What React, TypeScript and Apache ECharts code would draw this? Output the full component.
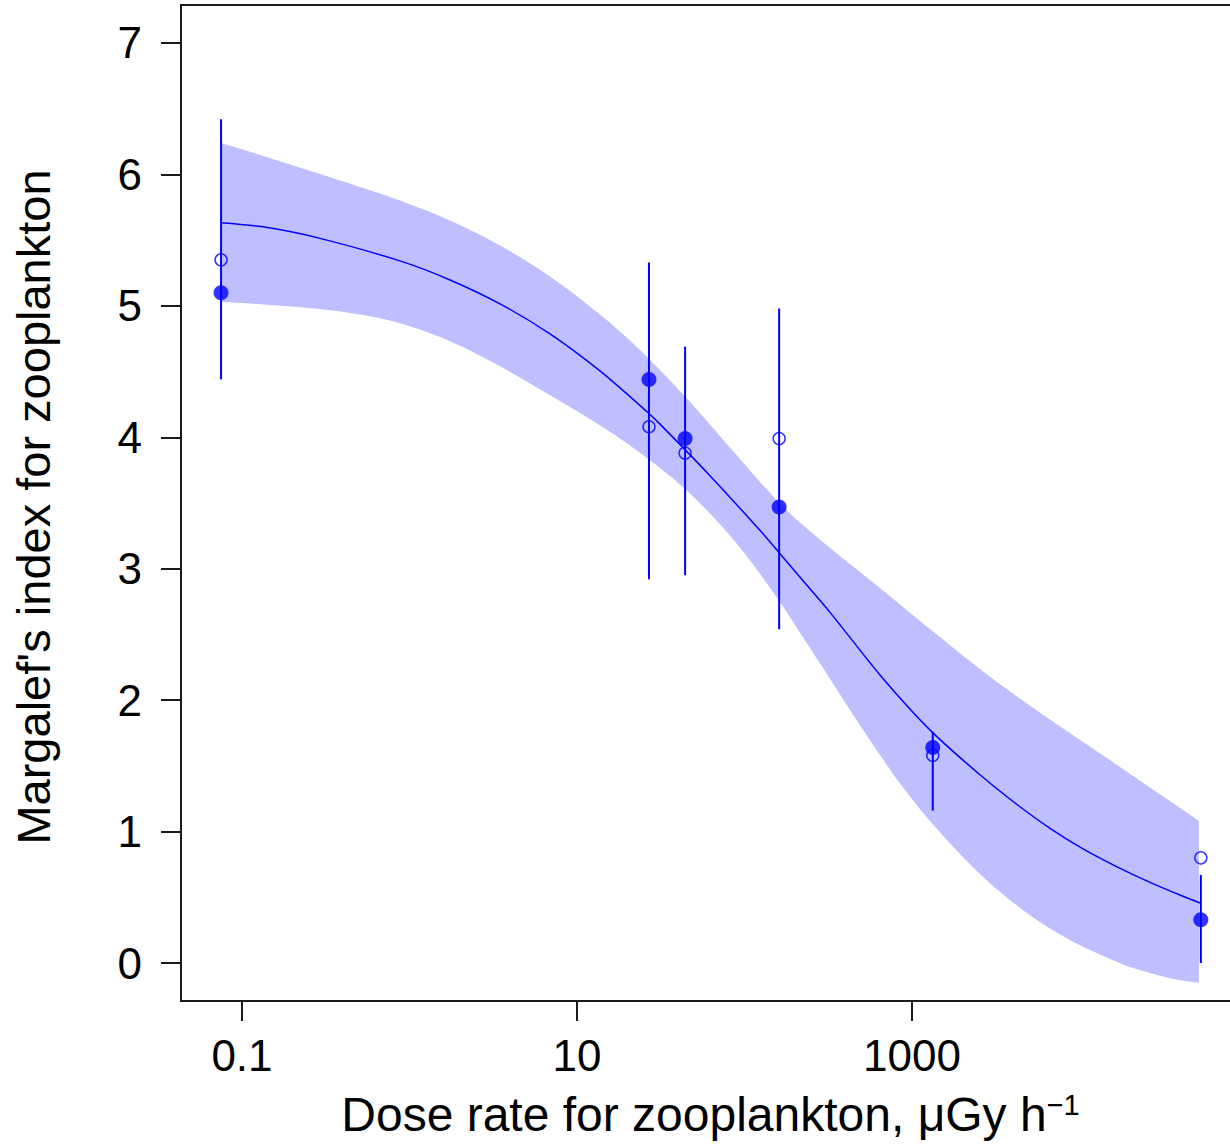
import React, { useEffect, useRef } from "react";
import * as echarts from "echarts";

// Observed data points (dose rate, µGy/h)
const doseRate = [0.075, 26.9, 44.2, 161, 1330, 53000];
const filledIndex = [5.1, 4.44, 3.99, 3.47, 1.64, 0.33];
const openIndex = [5.35, 4.08, 3.88, 3.99, 1.58, 0.8];
const errLow = [4.44, 2.92, 2.95, 2.54, 1.16, 0.0];
const errHigh = [6.42, 5.33, 4.69, 4.98, 1.76, 0.67];

// Fitted curve
const fitDose = [0.075, 0.1334, 0.2805, 0.877, 1.746, 3.47, 6.9, 13.71, 26.2, 31.3, 62.2, 124, 158.5, 214, 324, 644, 1279, 2545, 4236, 6668, 10500, 16760, 26360, 41500, 52380];
const fitIndex = [5.633, 5.601, 5.519, 5.342, 5.197, 5.015, 4.787, 4.505, 4.194, 4.1, 3.708, 3.29, 3.132, 2.937, 2.668, 2.192, 1.774, 1.432, 1.206, 1.025, 0.869, 0.732, 0.614, 0.508, 0.457];

// Confidence band (upper and lower limits at the same dose rates)
const bandDose = [0.075, 0.1116, 0.2804, 0.506, 0.877, 1.746, 3.47, 6.9, 13.71, 21.6, 31.3, 44.2, 62.2, 87.7, 124, 163, 214, 324, 426, 644, 847, 1334, 2545, 4236, 6668, 10500, 16760, 20860, 33270, 41500, 51600];
const bandUpper = [6.239, 6.173, 6.01, 5.904, 5.801, 5.649, 5.459, 5.223, 4.934, 4.714, 4.512, 4.31, 4.097, 3.878, 3.66, 3.495, 3.351, 3.158, 3.036, 2.853, 2.728, 2.522, 2.237, 2.028, 1.853, 1.681, 1.506, 1.423, 1.248, 1.164, 1.08];
const bandLower = [5.029, 5.018, 4.977, 4.934, 4.867, 4.73, 4.54, 4.319, 4.091, 3.921, 3.766, 3.607, 3.42, 3.207, 2.96, 2.744, 2.515, 2.162, 1.926, 1.583, 1.367, 1.053, 0.677, 0.437, 0.262, 0.123, 0.008, -0.038, -0.11, -0.135, -0.149];

// Axes
const xTicks = [0.1, 10, 1000];
const xTickLabels = ["0.1", "10", "1000"];
const yTicks = [0, 1, 2, 3, 4, 5, 6, 7];
const xMin = 0.04325;
const xMax = 90800;
const yMin = -0.289;
const yMax = 7.289;

const FONT = "Liberation Sans, Arial, sans-serif";
const BLUE = "#0000FF";
const BAND = "#BFBFFF";
const INK = "#1a1a1a";

export default function App() {
  const ref = useRef<HTMLDivElement>(null);

  useEffect(() => {
    if (!ref.current) return;
    const chart = echarts.init(ref.current, undefined, { renderer: "svg" });
    const option: any = {
      animation: false,
      backgroundColor: "#ffffff",
      grid: {
        left: 181,
        right: 20,
        top: 5,
        bottom: 147,
        show: true,
        borderColor: INK,
        borderWidth: 2,
        backgroundColor: "transparent",
        outerBoundsMode: "none",
      },
      xAxis: {
        type: "log",
        logBase: 10,
        min: xMin,
        max: xMax,
        axisLine: { show: false, onZero: false },
        splitLine: { show: false },
        minorTick: { show: false },
        axisTick: {
          show: true,
          length: 20,
          customValues: xTicks,
          lineStyle: { color: INK, width: 2 },
        },
        axisLabel: {
          customValues: xTicks,
          margin: 32,
          fontFamily: FONT,
          fontSize: 44,
          color: "#000",
          formatter: (v: number) => {
            for (let i = 0; i < xTicks.length; i++) {
              if (Math.abs(Math.log10(v) - Math.log10(xTicks[i])) < 1e-6) return xTickLabels[i];
            }
            return "";
          },
        },
        name: "{a|Dose rate for zooplankton, μGy h}{b|−1}",
        nameLocation: "middle",
        nameGap: 89,
        nameTextStyle: {
          fontFamily: FONT,
          color: "#000",
          rich: {
            a: { fontFamily: FONT, fontSize: 48, lineHeight: 48, color: "#000" },
            b: { fontFamily: FONT, fontSize: 29, lineHeight: 14, color: "#000", verticalAlign: "top" },
          },
        },
      },
      yAxis: {
        type: "value",
        min: yMin,
        max: yMax,
        axisLine: { show: false, onZero: false },
        splitLine: { show: false },
        axisTick: {
          show: true,
          length: 20,
          customValues: yTicks,
          lineStyle: { color: INK, width: 2 },
        },
        axisLabel: {
          customValues: yTicks,
          margin: 39,
          fontFamily: FONT,
          fontSize: 44,
          color: "#000",
          formatter: (v: number) => String(Math.round(v)),
        },
        name: "Margalef's index for zooplankton",
        nameLocation: "middle",
        nameGap: 124,
        nameTextStyle: { fontFamily: FONT, fontSize: 47, lineHeight: 47, color: "#000", padding: [0, 8, 0, 0] },
      },
      series: [
        {
          type: "custom",
          name: "band",
          silent: true,
          z: 1,
          data: [[bandDose[0], bandUpper[0]]],
          renderItem: (_params: any, api: any) => {
            const up = bandDose.map((d, i) => api.coord([d, bandUpper[i]]));
            const lo = bandDose.map((d, i) => api.coord([d, bandLower[i]])).reverse();
            // corners are doubled so that the smoothing keeps them sharp
            const pts = [up[0], ...up, up[up.length - 1], lo[0], ...lo, lo[lo.length - 1]];
            return {
              type: "polygon",
              shape: { points: pts, smooth: 0.35 },
              style: { fill: BAND, stroke: "none" },
            };
          },
        },
        {
          type: "line",
          name: "fit",
          z: 2,
          silent: true,
          showSymbol: false,
          smooth: 0.3,
          data: fitDose.map((d, i) => [d, fitIndex[i]]),
          lineStyle: { color: BLUE, width: 1.5 },
        },
        {
          type: "custom",
          name: "errorbars",
          z: 3,
          silent: true,
          data: doseRate.map((d, i) => [d, errLow[i], errHigh[i]]),
          encode: { x: 0, y: [1, 2] },
          renderItem: (_params: any, api: any) => {
            const x = api.value(0);
            const p1 = api.coord([x, api.value(1)]);
            const p2 = api.coord([x, api.value(2)]);
            return {
              type: "line",
              shape: { x1: p1[0], y1: p1[1], x2: p2[0], y2: p2[1] },
              style: { stroke: BLUE, lineWidth: 2 },
            };
          },
        },
        {
          type: "scatter",
          name: "open",
          z: 4,
          silent: true,
          symbol: "circle",
          symbolSize: 12,
          data: doseRate.map((d, i) => [d, openIndex[i]]),
          itemStyle: { color: "rgba(0,0,0,0)", borderColor: BLUE, borderWidth: 1.5 },
        },
        {
          type: "scatter",
          name: "filled",
          z: 5,
          silent: true,
          symbol: "circle",
          symbolSize: 15,
          data: doseRate.map((d, i) => [d, filledIndex[i]]),
          itemStyle: { color: BLUE },
        },
      ],
    };
    chart.setOption(option);
    return () => chart.dispose();
  }, []);

  return (
    <div
      style={{
        position: "absolute",
        left: 0,
        top: 0,
        width: 1230,
        height: 1148,
        overflow: "hidden",
        background: "#fff",
      }}
    >
      <div ref={ref} style={{ width: 1260, height: 1148 }} />
    </div>
  );
}
